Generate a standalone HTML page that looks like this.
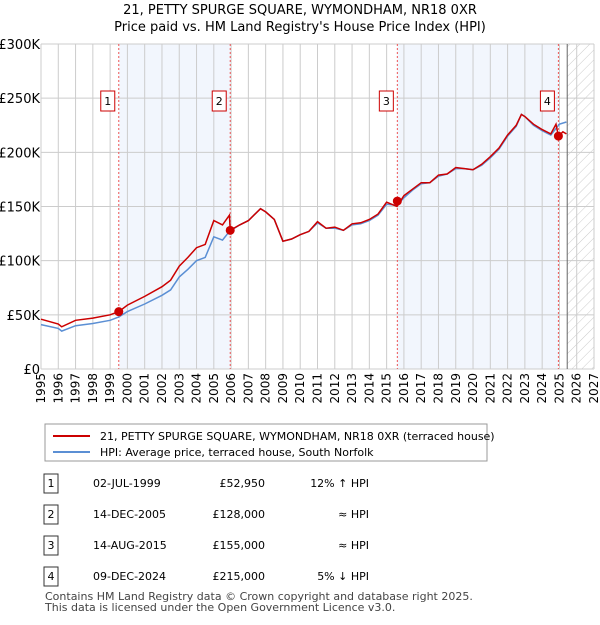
<!DOCTYPE html>
<html><head><meta charset="utf-8"><style>
body{margin:0;width:600px;height:620px;background:#fff;font-family:"Liberation Sans","DejaVu Sans",sans-serif;overflow:hidden}
svg text{font-family:"DejaVu Sans","Liberation Sans",sans-serif}
</style></head><body>
<svg id="c" width="600" height="620">
<defs><pattern id="hatch" width="7" height="7" patternUnits="userSpaceOnUse" patternTransform="rotate(45)"><line x1="0" y1="0" x2="0" y2="7" stroke="#ccc" stroke-width="1"/></pattern></defs>
<text x="300" y="14" text-anchor="middle" font-size="13">21, PETTY SPURGE SQUARE, WYMONDHAM, NR18 0XR</text>
<text x="300" y="31" text-anchor="middle" font-size="13">Price paid vs. HM Land Registry's House Price Index (HPI)</text>
<g id="plot"></g>
<rect x="45" y="424" width="442" height="37" fill="#fff" stroke="#999"/>
<line x1="53" y1="436" x2="90" y2="436" stroke="#cc0000" stroke-width="2"/>
<text x="100" y="440" font-size="11">21, PETTY SPURGE SQUARE, WYMONDHAM, NR18 0XR (terraced house)</text>
<line x1="53" y1="452" x2="90" y2="452" stroke="#5b8fd4" stroke-width="2"/>
<text x="100" y="456" font-size="11">HPI: Average price, terraced house, South Norfolk</text>
<g id="tbl" font-size="11"></g>
<text x="45" y="600" font-size="11" fill="#444">Contains HM Land Registry data © Crown copyright and database right 2025.</text>
<text x="45" y="611" font-size="11" fill="#444">This data is licensed under the Open Government Licence v3.0.</text>
</svg>
<script>
const years=[1995,1996,1997,1998,1999,2000,2001,2002,2003,2004,2005,2006,2007,2008,2009,2010,2011,2012,2013,2014,2015,2016,2017,2018,2019,2020,2021,2022,2023,2024,2025,2026,2027];
const yTicks=[0,50,100,150,200,250,300];
const yTickLabels=["£0","£50K","£100K","£150K","£200K","£250K","£300K"];
const hpiDates=[1995,1996,1996.2,1997,1998,1999,1999.5,2000,2001,2002,2002.5,2003,2003.5,2004,2004.5,2005,2005.5,2005.9,2006.5,2007,2007.7,2008,2008.5,2009,2009.5,2010,2010.5,2011,2011.5,2012,2012.5,2013,2013.5,2014,2014.5,2015,2015.6,2016,2016.5,2017,2017.5,2018,2018.5,2019,2019.5,2020,2020.5,2021,2021.5,2022,2022.5,2022.8,2023,2023.5,2024,2024.5,2024.8,2025,2025.4];
const hpiValues=[41,37.5,35,40,42,45,48,53,60,68,73,85,92,100,103,122,119,127,133,137,148,145,138,118,120,124,127,135,130,130,128,133,134,137,142,152,151,158,165,171,172,178,180,185,185,184,188,195,203,215,224,235,233,225,220,216,222,226,228];
const priceDates=[1995,1996,1996.2,1997,1998,1999,1999.5,2000,2001,2002,2002.5,2003,2003.5,2004,2004.5,2005,2005.5,2005.9,2005.95,2006.5,2007,2007.7,2008,2008.5,2009,2009.5,2010,2010.5,2011,2011.5,2012,2012.5,2013,2013.5,2014,2014.5,2015,2015.6,2016,2016.5,2017,2017.5,2018,2018.5,2019,2019.5,2020,2020.5,2021,2021.5,2022,2022.5,2022.8,2023,2023.5,2024,2024.5,2024.8,2024.94,2025.2,2025.4];
const priceValues=[46,41.5,39,45,47,50,53,59,67,76,82,95,103,112,115,137,133,142,128,133,137,148,145,138,118,120,124,127,136,130,131,128,134,135,138,143,154,150,160,166,172,172,179,180,186,185,184,189,196,204,216,225,235,233,226,221,217,226,215,219,217];
const saleDates=[1999.5,2005.95,2015.62,2024.94];
const saleValues=[52.95,128,155,215];
const saleLabels=["1","2","3","4"];
const saleDateText=["02-JUL-1999","14-DEC-2005","14-AUG-2015","09-DEC-2024"];
const salePriceText=["£52,950","£128,000","£155,000","£215,000"];
const saleHpiText=["12% ↑ HPI","≈ HPI","≈ HPI","5% ↓ HPI"];

const NS="http://www.w3.org/2000/svg";
const X0=41,X1=594,Y0=369,Y1=44;
const sx=v=>X0+(v-1995)/(2027-1995)*(X1-X0);
const sy=v=>Y0-(v/300)*(Y0-Y1);
const plot=document.getElementById('plot');
function mk(t,a,p){const e=document.createElementNS(NS,t);for(const k in a)e.setAttribute(k,a[k]);(p||plot).appendChild(e);return e;}
for(let i=0;i<4;i+=2){const r=mk('rect',{x:sx(saleDates[i]),y:Y1,width:sx(saleDates[i+1])-sx(saleDates[i]),height:Y0-Y1,fill:'#f2f6fd'});

}
const h=mk('rect',{x:sx(2025.45),y:Y1,width:X1-sx(2025.45),height:Y0-Y1,fill:'url(#hatch)'});


years.forEach(y=>{const l=mk('line',{x1:sx(y),x2:sx(y),y1:Y1,y2:Y0,stroke:'#ccc'});


const t=mk('text',{transform:`translate(${sx(y)+4},${Y0+4}) rotate(-90)`,'text-anchor':'end','font-size':12});t.textContent=y;

});
yTicks.forEach((v,i)=>{const l=mk('line',{x1:X0,x2:X1,y1:sy(v),y2:sy(v),stroke:'#ccc'});


const t=mk('text',{x:X0-1,y:sy(v)+5,'text-anchor':'end','font-size':13});t.textContent=yTickLabels[i];

});
const nl=mk('line',{x1:sx(2025.45),x2:sx(2025.45),y1:Y1,y2:Y0,stroke:'#666'});


saleDates.forEach((d,i)=>{const l=mk('line',{x1:sx(d),x2:sx(d),y1:Y1,y2:Y0,stroke:'#ee5555','stroke-dasharray':'2,2'});


const b=mk('rect',{x:sx(d)-18,y:91,width:14,height:20,fill:'#fff',stroke:'#cc0000'});


const t=mk('text',{x:sx(d)-11,y:105,'text-anchor':'middle','font-size':11});t.textContent=saleLabels[i];

});
const line=(ds,vs,c,n)=>{const p=mk('path',{d:ds.map((d,i)=>(i?'L':'M')+sx(d).toFixed(1)+','+sy(vs[i]).toFixed(1)).join(''),fill:'none',stroke:c,'stroke-width':1.5});

};
line(hpiDates,hpiValues,'#5b8fd4','hpi-line');
line(priceDates,priceValues,'#cc0000','price-line');
saleDates.forEach((d,i)=>{const c=mk('circle',{cx:sx(d),cy:sy(saleValues[i]),r:4.5,fill:'#cc0000'});

});
const tbl=document.getElementById('tbl');
saleLabels.forEach((s,i)=>{const y=483+i*31;
const b=mk('rect',{x:44,y:y-9,width:14,height:19,fill:'#fff',stroke:'#333'},tbl);


const cols=[[51,s,'middle'],[93,saleDateText[i],'start'],[265,salePriceText[i],'end'],[369,saleHpiText[i],'end']];
cols.forEach(c=>{const t=mk('text',{x:c[0],y:y+4,'text-anchor':c[2]},tbl);t.textContent=c[1];

});});
</script>
</body></html>
